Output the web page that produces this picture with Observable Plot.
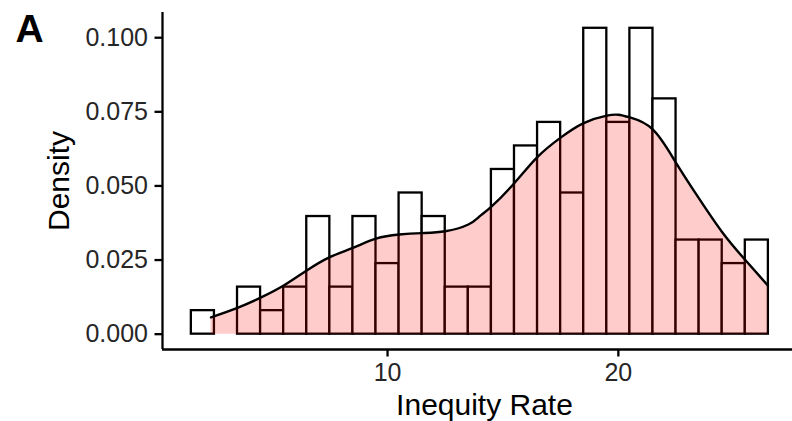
<!DOCTYPE html>
<html>
<head>
<meta charset="utf-8">
<script src="https://cdn.jsdelivr.net/npm/d3@7"></script>
<script src="https://cdn.jsdelivr.net/npm/@observablehq/plot@0.6"></script>
<style>
  html, body { margin: 0; padding: 0; background: white; }
</style>
</head>
<body>
<div id="chart"></div>
<script>
// Histogram bins (width 1), centred on these values
const binCenters = [2, 3, 4, 5, 6, 7, 8, 9, 10, 11, 12, 13, 14, 15, 16, 17, 18, 19, 20, 21, 22, 23, 24, 25, 26];
const binCounts  = [1, 0, 2, 1, 2, 5, 2, 5, 3, 6, 5, 2, 2, 7, 8, 9, 6, 13, 9, 13, 10, 4, 4, 3, 4];
const sampleSize = 126;
const binWidth = 1;

// Kernel density curve
const densityX = [2.35, 3.5, 4.5, 5.5, 6.5, 7.5, 8.5, 9.5, 10.5, 11.5, 12.5, 13.5, 14.0, 14.5, 15.5, 16.5, 17.5, 18.5, 19.5, 20.0, 20.5, 21.5, 22.5, 23.5, 24.5, 25.5, 26.48];
const densityY = [0.0057, 0.0089, 0.0123, 0.0164, 0.0215, 0.0260, 0.0291, 0.0322, 0.0336, 0.0341, 0.0347, 0.0370, 0.0398, 0.0430, 0.0510, 0.0598, 0.0663, 0.0712, 0.0737, 0.0740, 0.0731, 0.0690, 0.0578, 0.0457, 0.0344, 0.0250, 0.0164];

const xTicks = [10, 20];
const yTicks = [0, 0.025, 0.05, 0.075, 0.1];
const xTitle = "Inequity Rate";
const yTitle = "Density";
const panelTag = "A";

const bins = binCenters.map((c, i) => ({
  x1: c - binWidth / 2,
  x2: c + binWidth / 2,
  density: binCounts[i] / (sampleSize * binWidth)
}));
const dens = densityX.map((x, i) => ({x, y: densityY[i]}));

const xDomain = [0.25, 27.545];
const yDomain = [-0.00517, 0.1085];

const chart = Plot.plot({
  width: 792,
  height: 421,
  marginLeft: 162,
  marginRight: 0,
  marginTop: 12,
  marginBottom: 72,
  style: {fontFamily: "'Liberation Sans', Arial, Helvetica, sans-serif", fontSize: "25px", background: "white", color: "black"},
  x: {domain: xDomain},
  y: {domain: yDomain},
  marks: [
    Plot.rectY(bins, {x1: "x1", x2: "x2", y1: 0, y2: "density", fill: "white", stroke: "black", strokeWidth: 2.3}),
    Plot.areaY(dens, {x: "x", y: "y", fill: "red", fillOpacity: 0.2, curve: "natural"}),
    Plot.lineY(dens, {x: "x", y: "y", stroke: "black", strokeWidth: 2.4, curve: "natural"}),
    Plot.ruleX([xDomain[0]], {y1: yDomain[0], y2: yDomain[1], stroke: "black", strokeWidth: 2.3}),
    Plot.ruleY([yDomain[0]], {x1: xDomain[0], x2: xDomain[1], stroke: "black", strokeWidth: 2.3}),
    Plot.axisY({ticks: yTicks, tickFormat: d3.format(".3f"), tickSize: 7.5, tickPadding: 7, strokeWidth: 2.3, stroke: "black", fill: "#262626", fontSize: 25, label: null}),
    Plot.axisX({ticks: xTicks, tickFormat: d3.format("d"), tickSize: 7.5, tickPadding: 6, strokeWidth: 2.3, stroke: "black", fill: "#262626", fontSize: 25, label: null}),
    Plot.text([yTitle], {frameAnchor: "left", dx: -103, rotate: -90, fontSize: 30, fill: "black", lineAnchor: "middle", textAnchor: "middle"}),
    Plot.text([xTitle], {frameAnchor: "bottom", dx: 7, dy: 55.5, fontSize: 30, fill: "black", lineAnchor: "middle", textAnchor: "middle"}),
    Plot.text([panelTag], {frameAnchor: "top-left", dx: -147, dy: 17.5, fontSize: 39, fontWeight: "bold", fill: "black", lineAnchor: "middle", textAnchor: "start"})
  ]
});
document.getElementById("chart").appendChild(chart);
</script>
</body>
</html>
